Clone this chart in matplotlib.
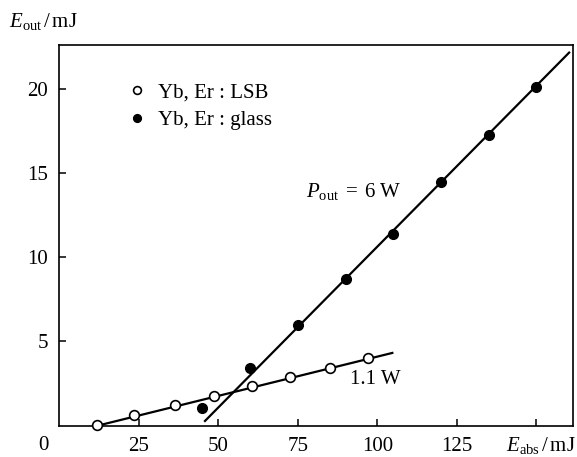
#!/usr/bin/env python
# Output energy vs absorbed energy, Yb,Er : LSB and Yb,Er : glass
import numpy as np
import matplotlib
matplotlib.use("Agg")
import matplotlib.pyplot as plt

plt.rcParams['font.family'] = ['Liberation Serif', 'DejaVu Serif']
plt.rcParams['mathtext.fontset'] = 'custom'
plt.rcParams['mathtext.rm'] = 'Liberation Serif'
plt.rcParams['mathtext.it'] = 'Liberation Serif:italic'

# data (mJ)
lsb_x = [12, 23.5, 36.5, 48.5, 60.5, 72.5, 85, 97]
lsb_y = [0.05, 0.65, 1.2, 1.75, 2.35, 2.9, 3.45, 4.0]
glass_x = [45, 60, 75, 90, 105, 120, 135, 150]
glass_y = [1.05, 3.45, 6.0, 8.7, 11.4, 14.45, 17.25, 20.1]

# straight fit lines (ends)
lsb_fit_x = [12, 104.7]
lsb_fit_y = [0.0, 4.32]
glass_fit_x = [45.8, 160.3]
glass_fit_y = [0.28, 22.15]

x_ticks = [25, 50, 75, 100, 125, 150]
x_labels = ['25', '50', '75', '100', '125', '']
y_ticks = [5, 10, 15, 20]

fig = plt.figure(figsize=(5.77, 4.57), dpi=100)
ax = fig.add_axes([0.1028, 0.0685, 0.8902, 0.833])

ax.plot(lsb_fit_x, lsb_fit_y, color='black', lw=1.6, zorder=2)
ax.plot(glass_fit_x, glass_fit_y, color='black', lw=1.6, zorder=2)
ax.plot(lsb_x, lsb_y, 'o', ms=7, mfc='white', mec='black', mew=1.2,
        zorder=3, label='Yb, Er : LSB', clip_on=False)
ax.plot(glass_x, glass_y, 'o', ms=7, mfc='black', mec='black',
        zorder=3, label='Yb, Er : glass')

ax.set_xlim(0, 161.5)
ax.set_ylim(0, 22.6)
ax.set_xticks(x_ticks)
ax.set_xticklabels(x_labels)
ax.set_yticks(y_ticks)
ax.tick_params(direction='in', length=5, width=1.1, labelsize=15, pad=8,
               top=False, right=False)
for s in ax.spines.values():
    s.set_linewidth(1.2)

# shared origin label
ax.annotate('0', xy=(0, 0), xytext=(-16, -20), textcoords='offset pixels',
            ha='center', va='center', fontsize=15, annotation_clip=False)

fig.text(0.998, 0.026, r'$E_{\rm abs}\,/\,$mJ', ha='right', va='center', fontsize=15)
fig.text(0.015, 0.953, r'$E_{\rm out}\,/\,$mJ', ha='left', va='center', fontsize=15)

ax.text(77.6, 13.9, r'$P_{\rm out}\;=\;6$ W', ha='left', va='center', fontsize=15)
ax.text(91.5, 2.77, '1.1 W', ha='left', va='center', fontsize=15)

leg = ax.legend(loc='upper left', bbox_to_anchor=(0.098, 0.95), frameon=False,
                fontsize=15, handlelength=0.8, handletextpad=0.6,
                labelspacing=0.4, markerscale=0.8)

fig.savefig('out.png', dpi=100)
